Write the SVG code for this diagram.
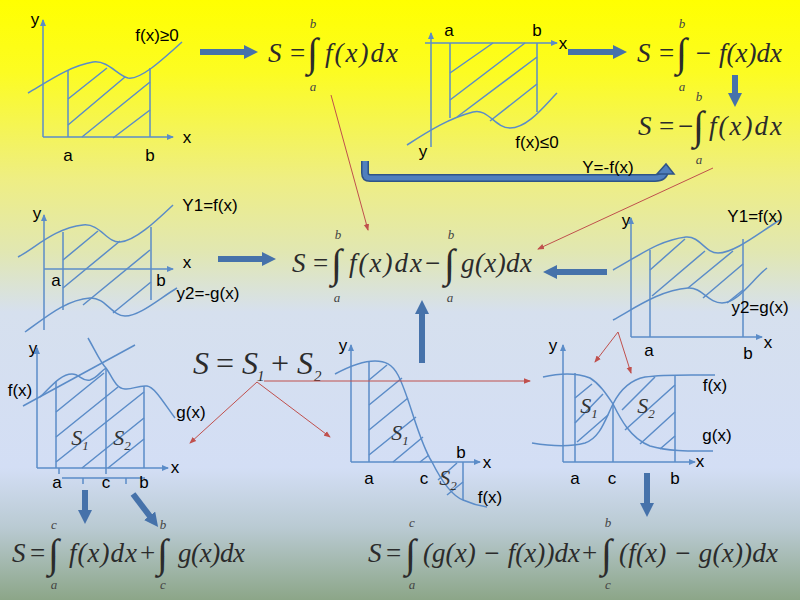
<svg xmlns="http://www.w3.org/2000/svg" width="800" height="600" viewBox="0 0 800 600">
<defs>
<linearGradient id="bg" x1="0" y1="0" x2="0" y2="1">
<stop offset="0" stop-color="#ffff00"/>
<stop offset="0.12" stop-color="#fcfc22"/>
<stop offset="0.3" stop-color="#eeee84"/>
<stop offset="0.42" stop-color="#e1e7b2"/>
<stop offset="0.52" stop-color="#d6e0ee"/>
<stop offset="0.78" stop-color="#d3def5"/>
<stop offset="0.88" stop-color="#b9cad2"/>
<stop offset="1" stop-color="#8ca688"/>
</linearGradient>
<marker id="ah" markerUnits="userSpaceOnUse" markerWidth="7" markerHeight="7" viewBox="0 0 7 7" refX="6" refY="3.5" orient="auto"><path d="M0,0.5 L7,3.5 L0,6.5 z" fill="#5b8cc8"/></marker>
<marker id="bh" markerUnits="userSpaceOnUse" markerWidth="14" markerHeight="14" viewBox="0 0 14 14" refX="4" refY="7" orient="auto"><path d="M0,0 L14,7 L0,14 z" fill="#4672aa"/></marker>
<marker id="rh" markerUnits="userSpaceOnUse" markerWidth="7" markerHeight="7" viewBox="0 0 7 7" refX="6" refY="3.5" orient="auto"><path d="M0,0.8 L7,3.5 L0,6.2 z" fill="#c0504d"/></marker>
<style>
.ax{stroke:#5b8cc8;stroke-width:1.5;fill:none;marker-end:url(#ah)}
.ln{stroke:#5b8cc8;stroke-width:1.5;fill:none}
.lb{font-family:"Liberation Sans",Arial,sans-serif;font-size:17px;fill:#000;text-anchor:middle}
.m{font-family:"Liberation Serif","Times New Roman",serif;font-style:italic;font-size:27px;fill:#2b2b2b}
.mu{font-family:"Liberation Serif","Times New Roman",serif;font-size:27px;fill:#2b2b2b}
.int{font-family:"Liberation Serif","Times New Roman",serif;font-size:40px;fill:#2b2b2b}
.lim{font-family:"Liberation Serif","Times New Roman",serif;font-style:italic;font-size:13px;fill:#444;text-anchor:middle}
.s{font-family:"Liberation Serif","Times New Roman",serif;font-style:italic;font-size:22px;fill:#333;text-anchor:middle}
.big{stroke:#4672aa;stroke-width:6;fill:none;marker-end:url(#bh)}
.red{stroke:#c0504d;stroke-width:1;fill:none;marker-end:url(#rh)}
</style>
</defs>
<rect x="0" y="0" width="800" height="600" fill="url(#bg)"/>

<g id="graph-fpos">
<path class="ax" d="M43,137 V20"/>
<path class="ax" d="M43,137 H173"/>
<path class="ln" d="M28,93 C50,80 70,66 93,62 C108,60 118,76 128,78 C140,80 160,62 182,42"/>
<path class="ln" d="M68,70 V137 M150,68 V137"/>
<path class="ln" d="M68,99 L107,68 M68,125 L125,77 M82,137 L150,82 M113,138 L150,110"/>
<text class="lb" x="35" y="25">y</text>
<text class="lb" x="187" y="143">x</text>
<text class="lb" x="68" y="161">a</text>
<text class="lb" x="150" y="161">b</text>
<text class="lb" x="157" y="41">f(x)≥0</text>
</g>

<g id="graph-fneg">
<path class="ax" d="M431,147 V33"/>
<path class="ax" d="M425,43 H557"/>
<path class="ln" d="M407,145 C430,130 450,118 473,112 C488,108 495,128 510,128 C528,128 545,105 557,93"/>
<path class="ln" d="M450,43 V118 M537,43 V112"/>
<path class="ln" d="M450,73 L493,43 M450,100 L525,43 M457,117 L537,57 M490,121 L537,84"/>
<text class="lb" x="449" y="36">a</text>
<text class="lb" x="537" y="36">b</text>
<text class="lb" x="563" y="49">x</text>
<text class="lb" x="423" y="157">y</text>
<text class="lb" x="537" y="148">f(x)≤0</text>
</g>

<g id="graph-fg-neg">
<path class="ax" d="M44,330 V215"/>
<path class="ax" d="M44,269 H173"/>
<path class="ln" d="M18,257 C35,248 55,228 83,225 C100,223 107,243 120,242 C135,241 155,222 173,205"/>
<path class="ln" d="M25,332 C45,318 65,300 90,298 C105,297 112,316 125,316 C140,316 160,298 177,288"/>
<path class="ln" d="M63,232 V310 M151,227 V300"/>
<path class="ln" d="M63,260 L98,231 M63,288 L120,241 M83,305 L150,250 M113,313 L151,282"/>
<text class="lb" x="37" y="219">y</text>
<text class="lb" x="187" y="268">x</text>
<text class="lb" x="56" y="286">a</text>
<text class="lb" x="161" y="286">b</text>
<text class="lb" x="210" y="211">Y1=f(x)</text>
<text class="lb" x="208" y="299">y2=-g(x)</text>
</g>

<g id="graph-fg-pos">
<path class="ax" d="M631,337 V218"/>
<path class="ax" d="M631,337 H762"/>
<path class="ln" d="M613,270 C640,255 660,240 686,237 C700,236 705,253 718,253 C735,253 760,232 780,220"/>
<path class="ln" d="M613,320 C635,308 660,290 688,288 C702,287 708,303 722,303 C738,303 752,280 767,268"/>
<path class="ln" d="M650,250 V337 M743,239 V337"/>
<path class="ln" d="M650,270 L685,239 M652,296 L705,251 M688,288 L733,251 M703,298 L743,264 M727,303 L743,290"/>
<text class="lb" x="626" y="226">y</text>
<text class="lb" x="768" y="348">x</text>
<text class="lb" x="649" y="356">a</text>
<text class="lb" x="748" y="359">b</text>
<text class="lb" x="755" y="222">Y1=f(x)</text>
<text class="lb" x="760" y="313">y2=g(x)</text>
</g>

<g id="graph-split">
<path class="ax" d="M37,468 V348"/>
<path class="ax" d="M37,468 H168"/>
<path class="ln" d="M23,406 L135,345"/>
<path class="ln" d="M40,397 C50,388 60,374 72,374 C80,374 82,382 90,380 C97,378 100,372 106,368"/>
<path class="ln" d="M88,338 C95,350 100,362 106,368 C112,376 115,388 125,389 C132,390 138,385 147,386 C155,387 165,405 175,418"/>
<path class="ln" d="M56,381 V468 M106,368 V474 M144,386 V468"/>
<path class="ln" d="M56,412 L104,373 M56,437 L118,387 M56,462 L144,392 M82,468 L144,418 M108,468 L144,439"/>
<path class="ln" d="M62,478 H145 M83,478 V484 M126,478 V484 M59,468 V474"/>
<text class="s" x="80" y="445">S<tspan font-size="13" dy="5">1</tspan></text>
<text class="s" x="122" y="445">S<tspan font-size="13" dy="5">2</tspan></text>
<text class="lb" x="33" y="354">y</text>
<text class="lb" x="175" y="473">x</text>
<text class="lb" x="20" y="396">f(x)</text>
<text class="lb" x="191" y="418">g(x)</text>
<text class="lb" x="57" y="488">a</text>
<text class="lb" x="106" y="488">c</text>
<text class="lb" x="144" y="488">b</text>
</g>

<g id="graph-cross-axis">
<path class="ax" d="M351,462 V345"/>
<path class="ax" d="M351,462 H480"/>
<path class="ln" d="M335,374 C350,366 362,361 375,361 C385,361 392,364 398,375 C410,398 418,440 432,462 C440,478 450,495 463,500 C472,504 480,506 487,507"/>
<path class="ln" d="M369,362 V462 M463,462 V500"/>
<path class="ln" d="M369,380 L387,365 M369,405 L402,378 M369,430 L408,398 M369,455 L416,417 M393,462 L423,437 M420,462 L429,455 M438,480 L457,463 M447,495 L463,482"/>
<text class="s" x="400" y="440">S<tspan font-size="13" dy="5">1</tspan></text>
<text class="s" x="448" y="485">S<tspan font-size="13" dy="5">2</tspan></text>
<text class="lb" x="343" y="351">y</text>
<text class="lb" x="487" y="468">x</text>
<text class="lb" x="369" y="484">a</text>
<text class="lb" x="424" y="484">c</text>
<text class="lb" x="461" y="458">b</text>
<text class="lb" x="490" y="503">f(x)</text>
</g>

<g id="graph-cross-curves">
<path class="ax" d="M563,462 V345"/>
<path class="ax" d="M563,462 H695"/>
<path class="ln" d="M532,443 C550,446 570,447 585,443 C600,438 605,420 613,404 C620,390 630,380 645,377 C665,374 690,375 715,375"/>
<path class="ln" d="M543,377 C560,373 575,372 590,378 C600,384 607,395 613,404 C620,418 630,438 650,446 C670,452 695,451 713,451"/>
<path class="ln" d="M575,373 V462 M613,404 V462 M675,375 V462"/>
<path class="ln" d="M575,398 L592,384 M575,423 L603,394 M577,442 L608,415 M622,410 L655,377 M625,430 L675,385 M640,444 L675,412 M660,449 L675,436"/>
<text class="s" x="589" y="413">S<tspan font-size="13" dy="5">1</tspan></text>
<text class="s" x="646" y="413">S<tspan font-size="13" dy="5">2</tspan></text>
<text class="lb" x="553" y="351">y</text>
<text class="lb" x="700" y="467">x</text>
<text class="lb" x="575" y="484">a</text>
<text class="lb" x="612" y="484">c</text>
<text class="lb" x="675" y="484">b</text>
<text class="lb" x="715" y="391">f(x)</text>
<text class="lb" x="717" y="441">g(x)</text>
</g>

<g id="formula-1">
<text class="m" x="268" y="62">S</text>
<text class="mu" x="290" y="62">=</text>
<text class="int" x="307" y="66">∫</text>
<text class="lim" x="313" y="28">b</text>
<text class="lim" x="313" y="91">a</text>
<text class="m" x="325" y="62" textLength="73" lengthAdjust="spacing">f(x)dx</text>
</g>

<g id="formula-2">
<text class="m" x="637" y="62">S</text>
<text class="mu" x="659" y="62">=</text>
<text class="int" x="676" y="66">∫</text>
<text class="lim" x="682" y="28">b</text>
<text class="lim" x="682" y="91">a</text>
<text class="m" x="694" y="62" textLength="88" lengthAdjust="spacing">− f(x)dx</text>
</g>

<g id="formula-3">
<text class="m" x="638" y="135">S</text>
<text class="mu" x="659" y="135">=</text>
<text class="mu" x="678" y="135">−</text>
<text class="int" x="693" y="139">∫</text>
<text class="lim" x="699" y="101">b</text>
<text class="lim" x="699" y="164">a</text>
<text class="m" x="709" y="135" textLength="73" lengthAdjust="spacing">f(x)dx</text>
</g>

<g id="formula-diff">
<text class="m" x="292" y="272">S</text>
<text class="mu" x="313" y="272">=</text>
<text class="int" x="331" y="277">∫</text>
<text class="lim" x="338" y="239">b</text>
<text class="lim" x="337" y="302">a</text>
<text class="m" x="349" y="272" textLength="73" lengthAdjust="spacing">f(x)dx</text>
<text class="mu" x="425" y="272">−</text>
<text class="int" x="444" y="277">∫</text>
<text class="lim" x="451" y="239">b</text>
<text class="lim" x="450" y="302">a</text>
<text class="m" x="461" y="272" textLength="71" lengthAdjust="spacing">g(x)dx</text>
</g>

<g id="formula-sum">
<text class="m" x="193" y="374" style="font-size:32px">S</text>
<text class="mu" x="216" y="374" style="font-size:32px">=</text>
<text class="m" x="242" y="374" style="font-size:32px">S</text>
<text class="m" x="257" y="381" style="font-size:15px">1</text>
<text class="mu" x="271" y="374" style="font-size:32px">+</text>
<text class="m" x="297" y="374" style="font-size:32px">S</text>
<text class="m" x="314" y="381" style="font-size:15px">2</text>
</g>

<g id="formula-split">
<text class="m" x="12" y="562">S</text>
<text class="mu" x="30" y="562">=</text>
<text class="int" x="48" y="567">∫</text>
<text class="lim" x="54" y="529">c</text>
<text class="lim" x="54" y="589">a</text>
<text class="m" x="69" y="562" textLength="68" lengthAdjust="spacing">f(x)dx</text>
<text class="mu" x="140" y="562">+</text>
<text class="int" x="157" y="567">∫</text>
<text class="lim" x="163" y="529">b</text>
<text class="lim" x="163" y="589">c</text>
<text class="m" x="178" y="562" textLength="67" lengthAdjust="spacing">g(x)dx</text>
</g>

<g id="formula-cross">
<text class="m" x="368" y="562">S</text>
<text class="mu" x="386" y="562">=</text>
<text class="int" x="405" y="567">∫</text>
<text class="lim" x="412" y="527">c</text>
<text class="lim" x="412" y="589">a</text>
<text class="m" x="423" y="562" textLength="157" lengthAdjust="spacing">(g(x) − f(x))dx</text>
<text class="mu" x="582" y="562">+</text>
<text class="int" x="601" y="567">∫</text>
<text class="lim" x="608" y="527">b</text>
<text class="lim" x="608" y="589">c</text>
<text class="m" x="619" y="562" textLength="159" lengthAdjust="spacing">(f(x) − g(x))dx</text>
</g>

<g id="connectors">
<path class="big" d="M200,52 H248"/>
<path class="big" d="M568,52 H617"/>
<path class="big" d="M735,75 V97"/>
<path d="M365,161 V173 Q365,178 370,178 H655 Q664,178 665,171" fill="none" stroke="#2f5487" stroke-width="8"/>
<path d="M365,161 V173 Q365,178 370,178 H655 Q664,178 665,171" fill="none" stroke="#4f7fbd" stroke-width="5"/>
<path d="M657,174 L666,164 L674,174 z" fill="#4f7fbd" stroke="#2f5487" stroke-width="1.5"/>
<text class="lb" x="608" y="173">Y=-f(x)</text>
<path class="big" d="M218,259 H266"/>
<path class="big" d="M607,272 H553"/>
<path class="big" d="M422,363 V310"/>
<path class="big" d="M85,490 V514"/>
<path class="big" d="M133,494 L152,519"/>
<path class="big" d="M647,473 V507"/>
<path class="red" d="M331,95 L368,230"/>
<path class="red" d="M713,168 L538,249"/>
<path class="red" d="M257,382 L190,443"/>
<path class="red" d="M257,382 L330,437"/>
<path class="red" d="M264,381 H530"/>
<path class="red" d="M618,332 L595,362"/>
<path class="red" d="M618,332 L631,373"/>
</g>
</svg>
